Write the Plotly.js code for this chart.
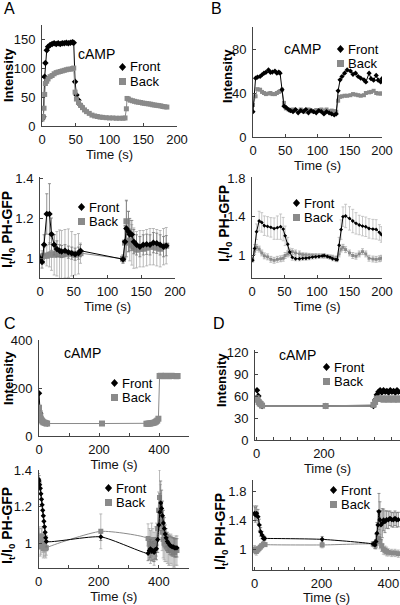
<!DOCTYPE html>
<html>
<head>
<meta charset="utf-8">
<script src="https://cdn.plot.ly/plotly-3.0.1.min.js"></script>
<style>
html,body{margin:0;padding:0;background:#fff;}
#chart{width:400px;height:605px;}
</style>
</head>
<body>
<div id="chart"></div>
<script>
// ---------------- DATA ----------------
// Panel A – intensity
const tA1Front = [0,2,4,5,7,9,12,15,18,21,24,27,30,33,36,39,42,45,47,49,51,54,57];
const A1Front  = [12,16,86,110,132,138,141,143,144,143,144,143,144,144,145,144,145,146,145,77,54,45,36];
const tA1Back  = [0,2,3,4,5,7,9,12,15,18,21,24,27,30,33,36,39,42,45,47,49,51,54,57,60,63,66,70,74,78,82,86,90,95,100,105,110,115,120,123,125,126,128,131,134,137,140,143,146,149,152,155,158,161,164,167,170,173,176,179,182,185];
const A1Back   = [12,16,31,55,74,78,82,86,88,91,93,94,95,96,97,98,99,99,100,101,59,47,41,36,32,28,25,22,19,17.5,16.5,15.5,15,14.5,14,14,13.5,13.5,13.5,14,30,48,47,45,44,43,42,41.5,41,40,39.5,39,38.5,38,37,36.5,36,35.5,35,34,33.5,33];

// Panel A – It/I0 PH-GFP
const tA2 = [0,3,6,10,14,17,21,25,29,32,37,42,47,52,57,60,123,126,128,131,133,136,139,143,148,153,158,163,168,173,178,183,187];
const A2Front    = [1.003,0.984,1.069,1.222,1.222,1.122,1.069,1.049,1.04,1.036,1.04,1.033,1.028,1.023,1.028,1.04,0.998,1.085,1.15,1.135,1.12,1.12,1.085,1.069,1.06,1.069,1.072,1.069,1.08,1.077,1.069,1.06,1.065];
const A2FrontErr = [0.02,0.03,0.05,0.1,0.15,0.08,0.05,0.04,0.03,0.03,0.03,0.03,0.03,0.03,0.03,0.03,0.02,0.08,0.14,0.1,0.08,0.07,0.06,0.05,0.05,0.05,0.05,0.05,0.05,0.05,0.05,0.05,0.05];
const A2Back     = [1.003,1.01,1.015,1.015,1.02,1.023,1.02,1.025,1.023,1.02,1.025,1.028,1.025,1.02,1.025,1.028,1.0,1.08,1.186,1.135,1.09,1.069,1.053,1.045,1.05,1.05,1.055,1.06,1.06,1.055,1.05,1.06,1.065];
const A2BackErr  = [0.02,0.03,0.04,0.05,0.06,0.08,0.1,0.11,0.12,0.12,0.12,0.12,0.11,0.1,0.1,0.05,0.02,0.08,0.1,0.1,0.1,0.1,0.1,0.09,0.09,0.09,0.09,0.09,0.09,0.09,0.09,0.09,0.09];

// Panel B – intensity
const tB1 = [0,4,7,11,14,17,20,24,27,30,34,37,40,42,45,48,51,55,58,62,66,70,74,78,82,86,90,94,98,102,106,110,114,118,122,126,129,132,135,138,142,146,151,155,159,163,167,172,175,180,183,187,191,194,198,200];
const B1Front = [23,53.5,54.5,55,56.6,58,58.8,61,58.8,59,60,58,59,58,43,28,27,25,24,23,25,22,24,23,25,22,24,23,22,24,23,21,23,22,21,20,21,42,52,55,58,61,60,57,58,55,53.5,52,50,58,53,51.7,56,51.7,50,53];
const B1Back  = [29,37,43.5,43,41,40,39,39.5,40,39,39,40,41,41.6,43,31,26,25,24,25,24,23.5,25,24,23,25,24,23,24.5,24,25,24,25,23.5,24,23.5,23,33,36.5,37,37.5,37.5,38,39,38.5,38,37.5,38,40,40.6,41,42,40,39.5,39.5,39.5];

// Panel B – It/I0 PH-GFP
const tB2 = [1,4,7,11,15,19,24,29,34,39,44,48,51,55,58,62,67,73,78,83,88,93,98,103,108,111,116,120,124,129,131,134,137,140,144,150,155,160,165,170,175,180,186,191,196,199];
const B2Front    = [0.956,1.076,1.248,1.358,1.344,1.31,1.303,1.293,1.28,1.29,1.3,1.275,1.206,1.12,1.04,0.985,0.97,0.97,0.975,0.976,0.98,0.987,0.99,0.994,1.0,1.004,0.994,0.985,0.97,0.962,0.96,1.11,1.27,1.403,1.41,1.385,1.358,1.334,1.317,1.306,1.299,1.282,1.275,1.272,1.241,1.22];
const B2FrontErr = [0.02,0.04,0.08,0.1,0.1,0.1,0.1,0.1,0.11,0.12,0.13,0.12,0.1,0.07,0.04,0.03,0.02,0.02,0.02,0.02,0.02,0.02,0.02,0.02,0.02,0.02,0.02,0.02,0.02,0.02,0.02,0.08,0.1,0.1,0.12,0.12,0.12,0.11,0.1,0.1,0.1,0.1,0.1,0.1,0.08,0.08];
const B2Back     = [0.96,1.043,1.088,1.07,1.03,1.0,0.99,0.965,0.955,0.965,0.97,0.976,1.004,1.02,1.035,1.043,1.03,1.02,1.012,1.01,1.006,1.004,1.004,1.003,1.0,0.997,0.995,0.99,0.987,0.978,0.976,1.02,1.07,1.088,1.064,1.03,1.004,0.997,1.02,1.043,1.02,0.976,0.968,0.965,0.97,0.976];
const B2BackErr  = [0.02,0.03,0.03,0.03,0.03,0.03,0.03,0.03,0.03,0.03,0.03,0.03,0.03,0.03,0.03,0.03,0.03,0.03,0.02,0.02,0.02,0.02,0.02,0.02,0.02,0.02,0.02,0.02,0.02,0.02,0.02,0.03,0.03,0.03,0.03,0.03,0.03,0.03,0.03,0.03,0.03,0.03,0.03,0.03,0.03,0.03];

// Panel C – intensity
const tC1Front = [0,4,8,13,20,27];
const C1Front  = [178,95,72,60,54,52];
const tC1Back  = [0,2,4,6,9,12,15,19,23,27,210,358,362,366,370,374,378,382,386,390,394,398,402,406,410,414,418,422,426,430,434,438,442,446,450,454,458,462];
const C1Back   = [118,95,82,72,65,60,57,55,53,52,52,51,51,52,52,53,54,55,57,60,64,72,250,251,250,249,250,251,250,250,249,250,251,250,250,250,249,250];

// Panel C – It/I0 PH-GFP
const tC2Front = [0,2,4,6,8,10,12,14,16,18,20,22,24,26,207,364,368,372,376,380,384,388,392,396,400,403,406,409,412,415,418,421,424,428,432,436,440,444,448,452,456,460];
const C2Front    = [1.35,1.34,1.32,1.30,1.27,1.24,1.21,1.18,1.15,1.12,1.09,1.06,1.03,1.01,1.035,0.945,0.96,0.97,0.955,0.96,0.95,0.965,0.97,1.02,1.10,1.17,1.22,1.19,1.15,1.11,1.08,1.05,1.03,1.01,1.0,0.99,0.985,0.98,0.98,0.975,0.975,0.975];
const C2FrontErr = [0.03,0.03,0.03,0.03,0.03,0.03,0.03,0.03,0.03,0.03,0.03,0.03,0.03,0.03,0.02,0.04,0.05,0.05,0.05,0.05,0.05,0.05,0.06,0.07,0.08,0.1,0.12,0.1,0.08,0.07,0.06,0.05,0.05,0.05,0.05,0.05,0.05,0.05,0.05,0.05,0.05,0.05];
const tC2Back = [0,2,4,6,8,10,12,14,16,18,20,22,24,26,207,364,368,372,376,380,384,388,392,396,399,402,405,408,411,414,417,420,424,428,432,436,440,444,448,452,456,460];
const C2Back     = [1.02,1.04,1.03,0.98,0.99,1.03,1.04,1.0,0.97,0.98,1.0,0.98,0.97,0.975,1.065,1.026,1.0,0.98,1.02,0.99,0.97,1.0,1.02,1.08,1.18,1.25,1.2,1.12,1.06,1.02,1.0,0.99,0.98,0.97,0.96,0.96,0.97,0.96,0.95,0.95,0.96,0.96];
const C2BackErr  = [0.04,0.05,0.05,0.05,0.05,0.05,0.05,0.05,0.05,0.05,0.05,0.05,0.05,0.04,0.095,0.08,0.08,0.09,0.09,0.09,0.09,0.09,0.09,0.09,0.1,0.15,0.12,0.1,0.1,0.1,0.09,0.09,0.08,0.08,0.08,0.08,0.08,0.08,0.08,0.08,0.08,0.08];

// Panel D – intensity
const tD1Front = [1,5,8,11,16,205,347,352,357,362,367,372,377,382,387,392,397,402,407,412,417,421];
const D1Front  = [68,60,52,48,46.5,46.5,46.5,54.5,62,66,68,65,68,66,67,65,68,66,67,65,68,66];
const tD1Back  = [0,3,6,9,12,16,205,347,352,357,362,367,372,377,382,387,392,397,402,407,412,417,421];
const D1Back   = [57,55,52,50,49,47,46.5,48,52,56,57,56,57,55,56,57,55,56,57,55,56,57,55];

// Panel D – It/I0 PH-GFP
const tD2Front = [0,2,6,10,14,18,22,26,30,202,355,360,363,366,369,372,375,378,382,386,390,395,400,405,410,415,420,425,430];
const D2Front    = [1.497,1.474,1.497,1.45,1.335,1.24,1.197,1.15,1.15,1.137,1.073,1.06,1.107,1.22,1.335,1.52,1.405,1.335,1.36,1.405,1.38,1.41,1.405,1.428,1.41,1.405,1.428,1.405,1.41];
const D2FrontErr = [0.1,0.1,0.1,0.1,0.08,0.06,0.05,0.04,0.03,0.04,0.03,0.05,0.1,0.15,0.2,0.25,0.25,0.2,0.2,0.15,0.15,0.12,0.12,0.1,0.1,0.1,0.1,0.1,0.1];
const tD2Back  = [0,2,5,9,13,17,21,26,31,202,355,360,365,370,375,380,385,390,395,400,410,420,430];
const D2Back     = [1.003,0.985,0.97,0.99,1.01,1.03,1.05,1.07,1.065,1.06,1.073,1.06,1.107,1.15,1.107,1.05,1.003,0.985,0.97,0.958,0.95,0.95,0.94];
const D2BackErr  = [0.05,0.05,0.05,0.04,0.04,0.03,0.03,0.03,0.02,0.04,0.03,0.05,0.08,0.1,0.1,0.08,0.07,0.06,0.06,0.05,0.05,0.05,0.05];

// Tick values
const ticksAB = [0,50,100,150,200];
const ticksA1y = [0,50,100,150];
const ticksB1y = [0,40,80];
const ticksNormA = [1,1.2,1.4];
const ticksNormB = [1,1.4,1.8];
const ticksC1y = [0,200,400];
const ticksD1y = [0,30,60,90,120];

// ---------------- STYLE / LAYOUT ----------------
const W = 400, H = 605;
const px = v => v / W, py = v => 1 - v / H;
const FONT = 'Liberation Sans, Arial, Helvetica, sans-serif';
const BLACK = '#000000', GREY = '#8a8a8a';

function frontTrace(x, y, xa, ya, size, err, opts) {
  const t = {
    x: x, y: y, xaxis: xa, yaxis: ya, type: 'scatter', mode: 'lines+markers',
    line: {color: BLACK, width: 1}, marker: {symbol: 'diamond', size: size, color: BLACK},
    showlegend: false, hoverinfo: 'skip'
  };
  if (err) t.error_y = {type: 'data', array: err, visible: true, color: '#777', thickness: 0.8, width: 1.5};
  return Object.assign(t, opts || {});
}
function backTrace(x, y, xa, ya, size, err, opts) {
  const t = {
    x: x, y: y, xaxis: xa, yaxis: ya, type: 'scatter', mode: 'lines+markers',
    line: {color: GREY, width: 1}, marker: {symbol: 'square', size: size, color: GREY},
    showlegend: false, hoverinfo: 'skip'
  };
  if (err) t.error_y = {type: 'data', array: err, visible: true, color: '#aaaaaa', thickness: 0.8, width: 1.5};
  return Object.assign(t, opts || {});
}
const spline = s => ({line: {color: s, width: 1, shape: 'spline', smoothing: 0.6}});

const data = [
  frontTrace(tA1Front, A1Front, 'x', 'y', 5),
  backTrace(tA1Back, A1Back, 'x', 'y', 5),
  backTrace(tA2, A2Back, 'x2', 'y2', 6, A2BackErr),
  frontTrace(tA2, A2Front, 'x2', 'y2', 5, A2FrontErr),
  backTrace(tB1, B1Back, 'x3', 'y3', 4),
  frontTrace(tB1, B1Front, 'x3', 'y3', 4),
  backTrace(tB2, B2Back, 'x4', 'y4', 3, B2BackErr),
  frontTrace(tB2, B2Front, 'x4', 'y4', 3, B2FrontErr, {error_y: {type: 'data', array: B2FrontErr, visible: true, color: '#bbbbbb', thickness: 0.8, width: 1.5}}),
  frontTrace(tC1Front, C1Front, 'x5', 'y5', 5),
  backTrace(tC1Back, C1Back, 'x5', 'y5', 6),
  backTrace(tC2Back, C2Back, 'x6', 'y6', 5, C2BackErr, spline(GREY)),
  frontTrace(tC2Front, C2Front, 'x6', 'y6', 4, C2FrontErr, spline(BLACK)),
  frontTrace(tD1Front, D1Front, 'x7', 'y7', 5),
  backTrace(tD1Back, D1Back, 'x7', 'y7', 6),
  backTrace(tD2Back, D2Back, 'x8', 'y8', 5, D2BackErr, spline(GREY)),
  frontTrace(tD2Front, D2Front, 'x8', 'y8', 4, D2FrontErr, spline(BLACK))
];

const axCommon = {
  showline: true, linecolor: '#444', linewidth: 1, ticks: 'inside', ticklen: 3, tickcolor: '#444',
  showgrid: false, zeroline: false, tickfont: {family: FONT, size: 13, color: '#111'}, fixedrange: true, automargin: false
};
function xAxis(l, r, range, anchor, standoff, extra) {
  return Object.assign({}, axCommon, {
    domain: [px(l), px(r)], range: range, anchor: anchor, ticklabelstandoff: 1,
    title: {text: 'Time (s)', font: {family: FONT, size: 13, color: '#111'}, standoff: standoff}
  }, extra);
}
function yAxis(top, bottom, range, anchor, tickvals, extra) {
  return Object.assign({}, axCommon, {
    domain: [py(bottom), py(top)], range: range, anchor: anchor, tickvals: tickvals, ticklabelstandoff: 3
  }, extra);
}
const minorC = {minor: {tick0: 0, dtick: 100, ticks: 'inside', ticklen: 3, tickcolor: '#444'}, tickmode: 'linear', tick0: 0, dtick: 200};
const minorD = {minor: {tick0: 0, dtick: 50, ticks: 'inside', ticklen: 3, tickcolor: '#444'}, tickmode: 'linear', tick0: 0, dtick: 200};

function ann(text, x, y, size, extra) {
  return Object.assign({text: text, x: px(x), y: py(y), xref: 'paper', yref: 'paper',
    xanchor: 'left', yanchor: 'middle', showarrow: false, font: {family: FONT, size: size, color: '#000'}}, extra);
}
// y-axis titles, rotated, centred at reference positions
const INT = '<b>Intensity</b>';
const NORM = '<b>I<sub>t</sub>/I<sub>0</sub> PH-GFP</b>';
function ytitle(text, cx, cy, size) {
  return ann(text, cx, cy, size, {xanchor: 'center', yanchor: 'middle', textangle: -90});
}
// legend entry: key symbol (shape) + label (annotation)
const shapes = [];
function legend(x, y) {
  const cx = x + 3.5, cy = y, cy2 = y + 14.5, h = 3.6;
  shapes.push({type: 'path', xref: 'paper', yref: 'paper',
    path: 'M' + px(cx - h) + ',' + py(cy) + ' L' + px(cx) + ',' + py(cy - h - 0.5) +
          ' L' + px(cx + h) + ',' + py(cy) + ' L' + px(cx) + ',' + py(cy + h + 0.5) + ' Z',
    fillcolor: BLACK, line: {width: 0}});
  shapes.push({type: 'rect', xref: 'paper', yref: 'paper',
    x0: px(cx - 3.5), x1: px(cx + 3.5), y0: py(cy2 + 3.5), y1: py(cy2 - 3.5),
    fillcolor: GREY, line: {width: 0}});
  return [ann('Front', x + 8.5, y, 13), ann('Back', x + 8.5, y + 14.5, 13)];
}

const annotations = [
  ann('A', 2, 9, 16), ann('B', 209, 9, 16), ann('C', 2, 323, 16), ann('D', 211, 323, 16),
  ann('cAMP', 76, 54, 14), ann('cAMP', 282, 49, 14), ann('cAMP', 62, 353, 14), ann('cAMP', 277, 355, 14),
  ytitle(INT, 8, 75, 13), ytitle(NORM, 8, 230, 14), ytitle(INT, 228, 76, 13), ytitle(NORM, 225, 224, 14),
  ytitle(INT, 8, 378, 13), ytitle(NORM, 8, 526, 14), ytitle(INT, 221, 380, 13), ytitle(NORM, 221, 532, 14)
].concat(legend(119, 67), legend(78, 207), legend(337, 49), legend(293, 203),
         legend(111, 383), legend(105, 488), legend(323, 367), legend(330, 490));

const layout = {
  width: W, height: H, margin: {l: 0, r: 0, t: 0, b: 0, pad: 0},
  paper_bgcolor: '#fff', plot_bgcolor: 'rgba(0,0,0,0)',
  font: {family: FONT, size: 12, color: '#000'}, showlegend: false,
  xaxis:  xAxis(42, 177, [0, 200], 'y',  3, {tickvals: ticksAB}),
  yaxis:  yAxis(25, 126, [0, 176], 'x',  ticksA1y),
  xaxis2: xAxis(40, 175, [0, 200], 'y2', 1, {tickvals: ticksAB}),
  yaxis2: yAxis(177, 278, [0.905, 1.405], 'x2', ticksNormA),
  xaxis3: xAxis(253, 382, [0, 200], 'y3', 3, {tickvals: ticksAB}),
  yaxis3: yAxis(27, 137, [0, 100], 'x3', ticksB1y),
  xaxis4: xAxis(252, 382, [0, 200], 'y4', 1, {tickvals: ticksAB}),
  yaxis4: yAxis(177, 278, [0.773, 1.81], 'x4', ticksNormB),
  xaxis5: xAxis(39, 189, [0, 500], 'y5', 3, minorC),
  yaxis5: yAxis(340, 436, [0, 400], 'x5', ticksC1y),
  xaxis6: xAxis(38.5, 189, [0, 500], 'y6', 3, minorC),
  yaxis6: yAxis(470, 568, [0.865, 1.40], 'x6', ticksNormA),
  xaxis7: xAxis(255, 400, [-5, 426], 'y7', 3, minorD),
  yaxis7: yAxis(350, 440, [0, 123], 'x7', ticksD1y),
  xaxis8: xAxis(253, 400, [-5, 435], 'y8', 3, minorD),
  yaxis8: yAxis(480, 570, [0.715, 1.955], 'x8', ticksNormB),
  annotations: annotations,
  shapes: shapes
};

Plotly.newPlot('chart', data, layout, {staticPlot: true, displayModeBar: false});
</script>
</body>
</html>
